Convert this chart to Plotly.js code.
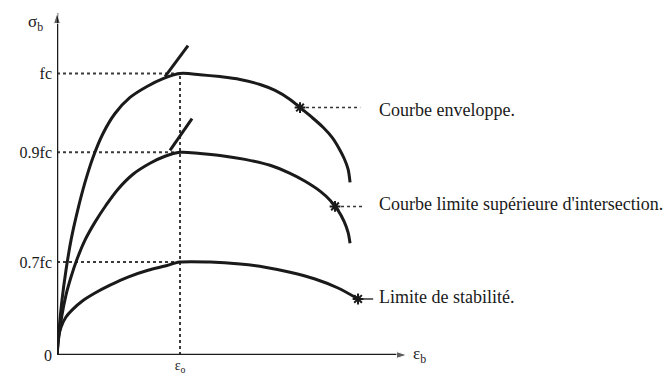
<!DOCTYPE html>
<html>
<head>
<meta charset="utf-8">
<script src="https://cdn.plot.ly/plotly-3.0.1.min.js"></script>
<style>
  html, body { margin: 0; padding: 0; background: #ffffff; }
  #chart { width: 671px; height: 381px; }
</style>
</head>
<body>
<div id="chart"></div>
<script>
// Strain in per mille, stress relative to fc (schematic diagram)
const eps0 = 2.0;

// Courbe enveloppe
const envX = [0, 0.033, 0.081, 0.146, 0.228, 0.325, 0.455, 0.585, 0.748, 0.943, 1.187, 1.463, 1.724, 2.0,
              2.325, 2.650, 2.976, 3.301, 3.545, 3.789, 3.951, 4.146, 4.325, 4.472, 4.585, 4.667, 4.732, 4.764];
const envY = [0, 0.089, 0.195, 0.301, 0.408, 0.504, 0.613, 0.702, 0.787, 0.858, 0.915, 0.954, 0.982, 1.0,
              0.996, 0.989, 0.979, 0.961, 0.940, 0.908, 0.879, 0.844, 0.809, 0.773, 0.734, 0.699, 0.660, 0.613];

// Courbe limite supérieure d'intersection
const supX = [0, 0.033, 0.081, 0.146, 0.228, 0.325, 0.455, 0.618, 0.797, 0.992, 1.236, 1.512, 1.756, 2.0,
              2.325, 2.650, 3.057, 3.463, 3.789, 4.033, 4.276, 4.439, 4.569, 4.667, 4.732, 4.764];
const supY = [0, 0.071, 0.142, 0.213, 0.277, 0.340, 0.408, 0.472, 0.532, 0.589, 0.642, 0.681, 0.706, 0.72,
              0.716, 0.709, 0.695, 0.674, 0.645, 0.617, 0.582, 0.550, 0.514, 0.475, 0.436, 0.397];

// Limite de stabilité
const stabX = [0, 0.016, 0.065, 0.146, 0.260, 0.407, 0.618, 0.862, 1.154, 1.480, 1.756, 2.0,
               2.488, 2.976, 3.382, 3.789, 4.195, 4.569, 4.894];
const stabY = [0, 0.053, 0.099, 0.135, 0.163, 0.191, 0.220, 0.248, 0.277, 0.301, 0.316, 0.33,
               0.330, 0.323, 0.312, 0.294, 0.270, 0.238, 0.199];

// Short tangent strokes at the peaks
const tanEnvX = [1.756, 2.13];
const tanEnvY = [0.989, 1.099];
const tanSupX = [1.837, 2.195];
const tanSupY = [0.727, 0.840];

// Stress levels marked on the vertical axis
const levelY = [0, 0.33, 0.72, 1.0];
const levelText = ['0', '0.7fc', '0.9fc', 'fc'];
const guideLevels = [1.0, 0.72, 0.33];

// Curve names, the points they are labelled at, and where the leader lines end
const labels = ['Courbe enveloppe.', "Courbe limite supérieure d'intersection.", 'Limite de stabilité.'];
const markX = [3.951, 4.520, 4.894];
const markY = [0.879, 0.528, 0.199];
const leaderEndX = [4.93, 4.96, 5.14];
const labelX = 5.2;
const labelY = [0.872, 0.536, 0.205];

// Axis extents
const xMax = 5.69;
const yMax = 1.215;

const ink = '#1a1a1a';
const serif = 'Liberation Serif, Times New Roman, serif';

const traces = [];

// dotted guides
guideLevels.forEach(v => {
  traces.push({ x: [0, eps0], y: [v, v], mode: 'lines', hoverinfo: 'skip',
    line: { color: '#3a3a3a', width: 2, dash: 'dot' } });
});
traces.push({ x: [eps0, eps0], y: [0, 1.0], mode: 'lines', hoverinfo: 'skip',
  line: { color: '#3a3a3a', width: 2, dash: 'dot' } });

// axes with arrow tips
traces.push({ x: [0, xMax], y: [0, 0], mode: 'lines+markers', hoverinfo: 'skip', cliponaxis: false,
  line: { color: ink, width: 2.5 },
  marker: { symbol: 'arrow', angleref: 'previous', size: [0, 11], color: ink } });
traces.push({ x: [0, 0], y: [0, yMax], mode: 'lines+markers', hoverinfo: 'skip', cliponaxis: false,
  line: { color: ink, width: 2.5 },
  marker: { symbol: 'arrow', angleref: 'previous', size: [0, 11], color: ink } });

// the three curves
[[envX, envY], [supX, supY], [stabX, stabY]].forEach(([xs, ys]) => {
  traces.push({ x: xs, y: ys, mode: 'lines', hoverinfo: 'skip', cliponaxis: false,
    line: { color: ink, width: 3, shape: 'spline', smoothing: 0.9 } });
});

// tangent strokes
[[tanEnvX, tanEnvY], [tanSupX, tanSupY]].forEach(([xs, ys]) => {
  traces.push({ x: xs, y: ys, mode: 'lines', hoverinfo: 'skip',
    line: { color: ink, width: 3 } });
});

// leader lines
labels.forEach((_, i) => {
  traces.push({ x: [markX[i], leaderEndX[i]], y: [markY[i], markY[i]], mode: 'lines', hoverinfo: 'skip',
    cliponaxis: false,
    line: { color: '#333', width: 1.5, dash: i < 2 ? 'dot' : 'solid' } });
});

// marks on the curves
traces.push({ x: markX, y: markY, mode: 'markers', hoverinfo: 'skip', cliponaxis: false,
  marker: { symbol: 'asterisk-open', size: 9, color: ink, line: { color: ink, width: 2 } } });

const annotations = [];

// axis names
annotations.push({ x: 0, y: 1.18, xref: 'x', yref: 'y', xanchor: 'right', xshift: -12, showarrow: false,
  text: 'σ<sub>b</sub>', font: { family: serif, size: 17, color: ink } });
annotations.push({ x: xMax, y: 0, xref: 'x', yref: 'y', xanchor: 'left', xshift: 4, showarrow: false,
  text: 'ε<sub>b</sub>', font: { family: serif, size: 17, color: ink } });

// curve names
labels.forEach((t, i) => {
  annotations.push({ x: labelX, y: labelY[i], xref: 'x', yref: 'y', xanchor: 'left', yanchor: 'middle',
    showarrow: false, text: t, font: { family: serif, size: 18, color: ink } });
});

const layout = {
  width: 671, height: 381,
  margin: { l: 57, r: 264, t: 13, b: 26, pad: 0 },
  paper_bgcolor: '#ffffff', plot_bgcolor: '#ffffff',
  showlegend: false,
  xaxis: { range: [0, xMax], showgrid: false, zeroline: false, showline: false,
    tickvals: [eps0], ticktext: ['ε<sub>o</sub>'], ticks: '', ticklabelstandoff: 0,
    tickfont: { family: serif, size: 14, color: ink } },
  yaxis: { range: [0, yMax], showgrid: false, zeroline: false, showline: false,
    tickvals: levelY, ticktext: levelText, ticks: '', ticklabelstandoff: 4,
    tickfont: { family: serif, size: 16, color: ink } },
  annotations: annotations
};

Plotly.newPlot('chart', traces, layout, { staticPlot: true, displayModeBar: false });
</script>
</body>
</html>
